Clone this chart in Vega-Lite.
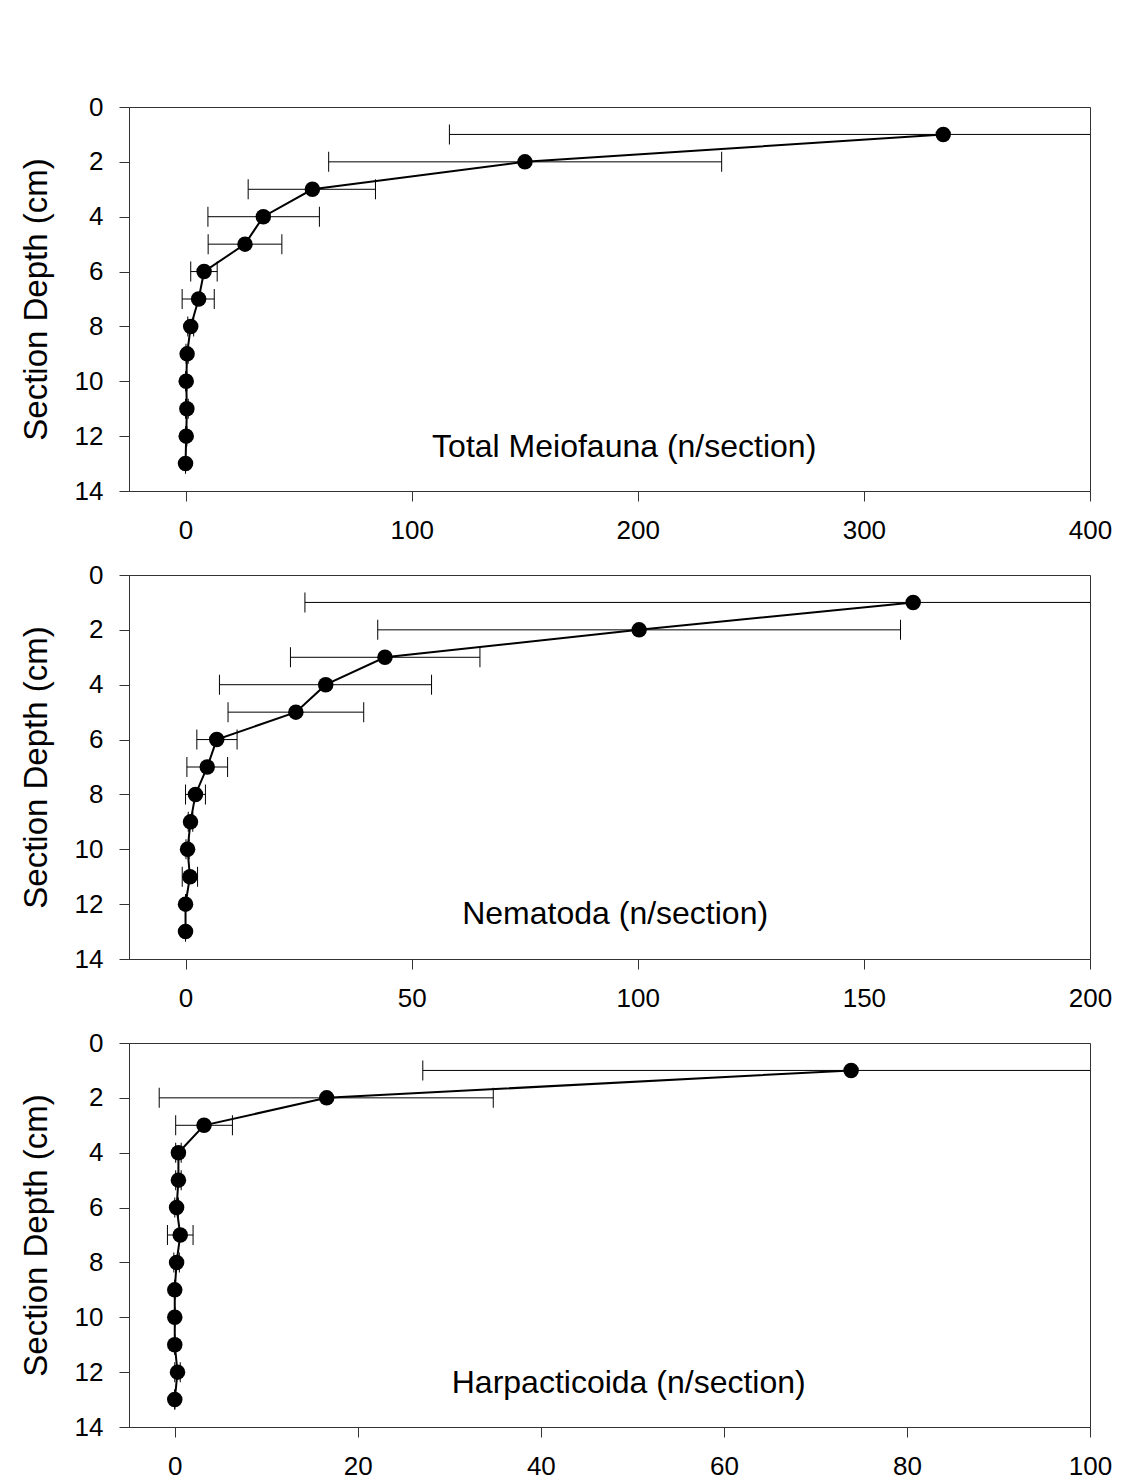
{
  "$schema": "https://vega.github.io/schema/vega-lite/v6.json",
  "padding": {"left": 19, "top": 93, "right": 46, "bottom": 0},
  "bounds": "flush",
  "spacing": 84,
  "background": "white",
  "config": {
    "font": "Liberation Sans",
    "view": {"stroke": "#333", "strokeWidth": 1},
    "axis": {
      "grid": false,
      "domainColor": "#333",
      "tickColor": "#333",
      "tickSize": 10,
      "labelColor": "#000",
      "labelFont": "Liberation Sans",
      "labelFontSize": 26,
      "titleFont": "Liberation Sans",
      "titleFontSize": 33,
      "titleFontWeight": "normal",
      "titleColor": "#000",
      "labelFlush": false,
      "labelOverlap": false
    },
    "axisX": {"labelPadding": 16},
    "axisY": {"labelPadding": 16, "titlePadding": 21}
  },
  "datasets": {
    "total": [
      {"depth": 1, "mean": 335.1, "lo": 116.7, "hi": 553.5},
      {"depth": 2, "mean": 150.1, "lo": 63.3, "hi": 237.1},
      {"depth": 3, "mean": 56.1, "lo": 27.7, "hi": 84.0},
      {"depth": 4, "mean": 34.4, "lo": 9.9, "hi": 59.2},
      {"depth": 5, "mean": 26.3, "lo": 10.0, "hi": 42.6},
      {"depth": 6, "mean": 8.2, "lo": 2.3, "hi": 14.0},
      {"depth": 7, "mean": 5.8, "lo": -1.5, "hi": 12.7},
      {"depth": 8, "mean": 2.3, "lo": 1.0, "hi": 3.6},
      {"depth": 9, "mean": 0.7, "lo": 0.2, "hi": 1.2},
      {"depth": 10, "mean": 0.3, "lo": 0.0, "hi": 0.6},
      {"depth": 11, "mean": 0.6, "lo": 0.0, "hi": 1.2},
      {"depth": 12, "mean": 0.3, "lo": 0.0, "hi": 0.6},
      {"depth": 13, "mean": 0.0, "lo": 0.0, "hi": 0.0}
    ],
    "nema": [
      {"depth": 1, "mean": 160.9, "lo": 26.4, "hi": 295.4},
      {"depth": 2, "mean": 100.3, "lo": 42.5, "hi": 158.1},
      {"depth": 3, "mean": 44.1, "lo": 23.2, "hi": 65.1},
      {"depth": 4, "mean": 31.0, "lo": 7.5, "hi": 54.4},
      {"depth": 5, "mean": 24.4, "lo": 9.4, "hi": 39.4},
      {"depth": 6, "mean": 6.9, "lo": 2.5, "hi": 11.4},
      {"depth": 7, "mean": 4.8, "lo": 0.3, "hi": 9.3},
      {"depth": 8, "mean": 2.2, "lo": 0.0, "hi": 4.4},
      {"depth": 9, "mean": 1.1, "lo": 0.6, "hi": 1.6},
      {"depth": 10, "mean": 0.45, "lo": 0.1, "hi": 0.8},
      {"depth": 11, "mean": 0.97, "lo": -0.73, "hi": 2.66},
      {"depth": 12, "mean": 0.0, "lo": 0.0, "hi": 0.0},
      {"depth": 13, "mean": 0.0, "lo": 0.0, "hi": 0.0}
    ],
    "harp": [
      {"depth": 1, "mean": 73.9, "lo": 27.1, "hi": 120.7},
      {"depth": 2, "mean": 16.6, "lo": -1.7, "hi": 34.8},
      {"depth": 3, "mean": 3.2, "lo": 0.1, "hi": 6.3},
      {"depth": 4, "mean": 0.4, "lo": 0.1, "hi": 0.7},
      {"depth": 5, "mean": 0.4, "lo": 0.1, "hi": 0.7},
      {"depth": 6, "mean": 0.2, "lo": 0.0, "hi": 0.4},
      {"depth": 7, "mean": 0.6, "lo": -0.8, "hi": 2.0},
      {"depth": 8, "mean": 0.2, "lo": -0.1, "hi": 0.5},
      {"depth": 9, "mean": 0.0, "lo": 0.0, "hi": 0.0},
      {"depth": 10, "mean": 0.0, "lo": 0.0, "hi": 0.0},
      {"depth": 11, "mean": 0.0, "lo": 0.0, "hi": 0.0},
      {"depth": 12, "mean": 0.3, "lo": 0.0, "hi": 0.6},
      {"depth": 13, "mean": 0.0, "lo": 0.0, "hi": 0.0}
    ],
    "labels1": [{"label": "Total Meiofauna (n/section)"}],
    "labels2": [{"label": "Nematoda (n/section)"}],
    "labels3": [{"label": "Harpacticoida (n/section)"}]
  },
  "vconcat": [
    {
      "width": 961, "height": 384,
      "layer": [
        {"data": {"name": "total"},
         "mark": {"type": "rule", "clip": true, "color": "#000", "strokeWidth": 1},
         "encoding": {"y": {"field": "depth", "type": "quantitative", "scale": {"domain": [0, 14], "reverse": true, "nice": false, "zero": false}, "axis": {"values": [0, 2, 4, 6, 8, 10, 12, 14], "title": "Section Depth (cm)"}},
           "x": {"field": "lo", "type": "quantitative", "scale": {"domain": [-25, 400], "nice": false, "zero": false}, "axis": {"values": [0, 100, 200, 300, 400], "title": null}}, "x2": {"field": "hi"}}},
        {"data": {"name": "total"},
         "mark": {"type": "tick", "orient": "vertical", "clip": true, "size": 20, "thickness": 1, "color": "#000", "opacity": 1},
         "encoding": {"y": {"field": "depth", "type": "quantitative"}, "x": {"field": "lo", "type": "quantitative"}}},
        {"data": {"name": "total"},
         "mark": {"type": "tick", "orient": "vertical", "clip": true, "size": 20, "thickness": 1, "color": "#000", "opacity": 1},
         "encoding": {"y": {"field": "depth", "type": "quantitative"}, "x": {"field": "hi", "type": "quantitative"}}},
        {"data": {"name": "total"},
         "mark": {"type": "line", "clip": true, "color": "#000", "strokeWidth": 2},
         "encoding": {"y": {"field": "depth", "type": "quantitative"}, "x": {"field": "mean", "type": "quantitative"}, "order": {"field": "depth"}}},
        {"data": {"name": "total"},
         "mark": {"type": "circle", "size": 240, "color": "#000", "opacity": 1},
         "encoding": {"y": {"field": "depth", "type": "quantitative"}, "x": {"field": "mean", "type": "quantitative"}}},
        {"data": {"name": "labels1"},
         "mark": {"type": "text", "fontSize": 32, "font": "Liberation Sans", "fill": "#000", "align": "center", "baseline": "middle"},
         "encoding": {"x": {"datum": 194, "type": "quantitative"}, "y": {"datum": 12.4, "type": "quantitative"}, "text": {"field": "label", "type": "nominal"}}}
      ]
    },
    {
      "width": 961, "height": 384,
      "layer": [
        {"data": {"name": "nema"},
         "mark": {"type": "rule", "clip": true, "color": "#000", "strokeWidth": 1},
         "encoding": {"y": {"field": "depth", "type": "quantitative", "scale": {"domain": [0, 14], "reverse": true, "nice": false, "zero": false}, "axis": {"values": [0, 2, 4, 6, 8, 10, 12, 14], "title": "Section Depth (cm)"}},
           "x": {"field": "lo", "type": "quantitative", "scale": {"domain": [-12.5, 200], "nice": false, "zero": false}, "axis": {"values": [0, 50, 100, 150, 200], "title": null}}, "x2": {"field": "hi"}}},
        {"data": {"name": "nema"},
         "mark": {"type": "tick", "orient": "vertical", "clip": true, "size": 20, "thickness": 1, "color": "#000", "opacity": 1},
         "encoding": {"y": {"field": "depth", "type": "quantitative"}, "x": {"field": "lo", "type": "quantitative"}}},
        {"data": {"name": "nema"},
         "mark": {"type": "tick", "orient": "vertical", "clip": true, "size": 20, "thickness": 1, "color": "#000", "opacity": 1},
         "encoding": {"y": {"field": "depth", "type": "quantitative"}, "x": {"field": "hi", "type": "quantitative"}}},
        {"data": {"name": "nema"},
         "mark": {"type": "line", "clip": true, "color": "#000", "strokeWidth": 2},
         "encoding": {"y": {"field": "depth", "type": "quantitative"}, "x": {"field": "mean", "type": "quantitative"}, "order": {"field": "depth"}}},
        {"data": {"name": "nema"},
         "mark": {"type": "circle", "size": 240, "color": "#000", "opacity": 1},
         "encoding": {"y": {"field": "depth", "type": "quantitative"}, "x": {"field": "mean", "type": "quantitative"}}},
        {"data": {"name": "labels2"},
         "mark": {"type": "text", "fontSize": 32, "font": "Liberation Sans", "fill": "#000", "align": "center", "baseline": "middle"},
         "encoding": {"x": {"datum": 95, "type": "quantitative"}, "y": {"datum": 12.35, "type": "quantitative"}, "text": {"field": "label", "type": "nominal"}}}
      ]
    },
    {
      "width": 961, "height": 384,
      "layer": [
        {"data": {"name": "harp"},
         "mark": {"type": "rule", "clip": true, "color": "#000", "strokeWidth": 1},
         "encoding": {"y": {"field": "depth", "type": "quantitative", "scale": {"domain": [0, 14], "reverse": true, "nice": false, "zero": false}, "axis": {"values": [0, 2, 4, 6, 8, 10, 12, 14], "title": "Section Depth (cm)"}},
           "x": {"field": "lo", "type": "quantitative", "scale": {"domain": [-5, 100], "nice": false, "zero": false}, "axis": {"values": [0, 20, 40, 60, 80, 100], "title": null}}, "x2": {"field": "hi"}}},
        {"data": {"name": "harp"},
         "mark": {"type": "tick", "orient": "vertical", "clip": true, "size": 20, "thickness": 1, "color": "#000", "opacity": 1},
         "encoding": {"y": {"field": "depth", "type": "quantitative"}, "x": {"field": "lo", "type": "quantitative"}}},
        {"data": {"name": "harp"},
         "mark": {"type": "tick", "orient": "vertical", "clip": true, "size": 20, "thickness": 1, "color": "#000", "opacity": 1},
         "encoding": {"y": {"field": "depth", "type": "quantitative"}, "x": {"field": "hi", "type": "quantitative"}}},
        {"data": {"name": "harp"},
         "mark": {"type": "line", "clip": true, "color": "#000", "strokeWidth": 2},
         "encoding": {"y": {"field": "depth", "type": "quantitative"}, "x": {"field": "mean", "type": "quantitative"}, "order": {"field": "depth"}}},
        {"data": {"name": "harp"},
         "mark": {"type": "circle", "size": 240, "color": "#000", "opacity": 1},
         "encoding": {"y": {"field": "depth", "type": "quantitative"}, "x": {"field": "mean", "type": "quantitative"}}},
        {"data": {"name": "labels3"},
         "mark": {"type": "text", "fontSize": 32, "font": "Liberation Sans", "fill": "#000", "align": "center", "baseline": "middle"},
         "encoding": {"x": {"datum": 49.6, "type": "quantitative"}, "y": {"datum": 12.4, "type": "quantitative"}, "text": {"field": "label", "type": "nominal"}}}
      ]
    }
  ]
}
